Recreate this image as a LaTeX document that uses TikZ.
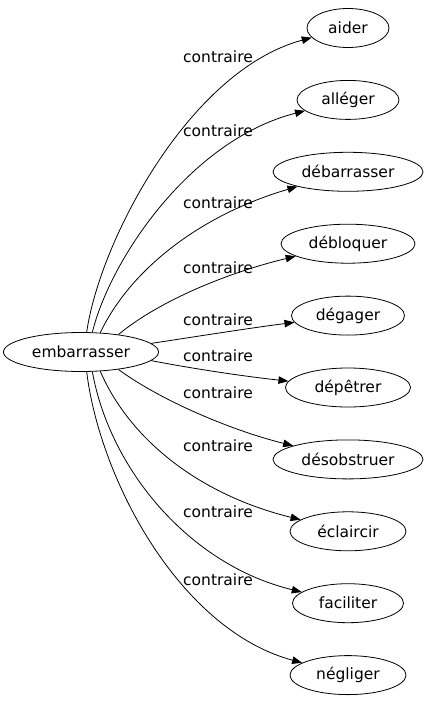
\documentclass[tikz,border=0pt]{standalone}
\usepackage{fontspec}
\setmainfont{DejaVu Sans}
\usetikzlibrary{arrows.meta,shapes.geometric}
\begin{document}
\begin{tikzpicture}[x=1bp,y=-1bp,
  vertex/.style={draw,ellipse,line width=0.8bp,inner sep=0,minimum height=39bp,font=\fontsize{15.5bp}{17bp}\selectfont},
  edge/.style={draw,line width=0.8bp,-{Triangle[length=10bp,width=7.5bp]}},
  lbl/.style={font=\fontsize{15.5bp}{17bp}\selectfont,inner sep=0}]
\useasboundingbox (0,0) rectangle (429,707);
\node[vertex,minimum width=155bp] (e) at (81,352) {embarrasser};
\node[vertex,minimum width=82bp]  (n1)  at (348,28)    {aider};
\node[vertex,minimum width=102bp] (n2)  at (348,99.9)  {alléger};
\node[vertex,minimum width=150bp] (n3)  at (348,171.8) {débarrasser};
\node[vertex,minimum width=134bp] (n4)  at (348,243.7) {débloquer};
\node[vertex,minimum width=113bp] (n5)  at (348,315.6) {dégager};
\node[vertex,minimum width=125bp] (n6)  at (348,387.5) {dépêtrer};
\node[vertex,minimum width=150bp] (n7)  at (348,459.4) {désobstruer};
\node[vertex,minimum width=116bp] (n8)  at (348,531.3) {éclaircir};
\node[vertex,minimum width=111bp] (n9)  at (348,603.2) {faciliter};
\node[vertex,minimum width=116bp] (n10) at (348,675.1) {négliger};

\draw[edge] (e.74)  .. controls (100,240) and (190,70)  .. (n1);
\draw[edge] (e.60)  .. controls (110,260) and (190,140) .. (n2);
\draw[edge] (e.45)  .. controls (130,270) and (200,215) .. (n3);
\draw[edge] (e.25)  .. controls (160,300) and (230,272) .. (n4);
\draw[edge] (e.7)   .. controls (200,336) and (250,328) .. (n5);
\draw[edge] (e.-7)  .. controls (200,370) and (250,377) .. (n6);
\draw[edge] (e.-25) .. controls (160,400) and (230,430) .. (n7);
\draw[edge] (e.-45) .. controls (130,440) and (200,495) .. (n8);
\draw[edge] (e.-60) .. controls (110,470) and (190,565) .. (n9);
\draw[edge] (e.-74) .. controls (100,480) and (180,630) .. (n10);

\node[lbl] (l1)  at (218,57)  {contraire};
\node[lbl] (l2)  at (218,131) {contraire};
\node[lbl] (l3)  at (218,203) {contraire};
\node[lbl] (l4)  at (218,268) {contraire};
\node[lbl] (l5)  at (218,320) {contraire};
\node[lbl] (l6)  at (218,356) {contraire};
\node[lbl] (l7)  at (218,393) {contraire};
\node[lbl] (l8)  at (218,446) {contraire};
\node[lbl] (l9)  at (218,512) {contraire};
\node[lbl] (l10) at (218,580) {contraire};
\end{tikzpicture}
\end{document}
